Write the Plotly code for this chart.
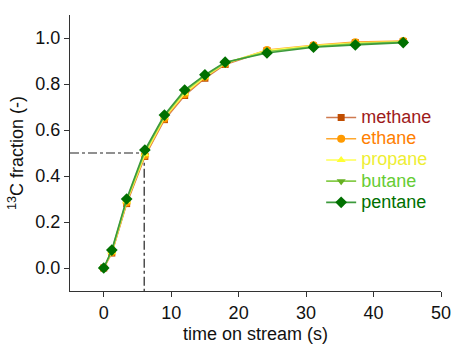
import plotly.graph_objects as go

# Sampling times (s)
time_s = [0, 1.2, 3.4, 6.1, 9.0, 12.0, 15.0, 18.0, 24.2, 31.1, 37.3, 44.4]

# 13C fraction for each alkane
methane = [0.0, 0.065, 0.28, 0.485, 0.645, 0.750, 0.825, 0.885, 0.945, 0.965, 0.980, 0.985]
ethane = [0.0, 0.068, 0.285, 0.490, 0.650, 0.755, 0.830, 0.888, 0.948, 0.968, 0.982, 0.987]
propane = [0.0, 0.070, 0.290, 0.495, 0.655, 0.760, 0.832, 0.890, 0.945, 0.966, 0.978, 0.984]
butane = [0.0, 0.074, 0.295, 0.505, 0.660, 0.768, 0.836, 0.892, 0.940, 0.963, 0.975, 0.982]
pentane = [0.0, 0.078, 0.300, 0.513, 0.665, 0.774, 0.840, 0.895, 0.935, 0.960, 0.970, 0.980]

# Half-conversion guide
half_time = 6.0
half_frac = 0.5

x_ticks = [0, 10, 20, 30, 40, 50]
y_ticks = [0.0, 0.2, 0.4, 0.6, 0.8, 1.0]

series = [
    ("methane", methane, "#cf7a4f", "#c04d00", "square", 7, "#9e1a1a"),
    ("ethane", ethane, "#ffa82e", "#ff9a00", "circle", 8, "#ff8000"),
    ("propane", propane, "#ffff55", "#ffff33", "triangle-up", 8, "#eeee33"),
    ("butane", butane, "#86cc4a", "#66b022", "triangle-down", 8, "#66cc33"),
    ("pentane", pentane, "#3c9a3c", "#007000", "diamond", 9, "#007000"),
]

FONT = "Liberation Sans, Arial, sans-serif"

fig = go.Figure()

# dash-dot guide lines at the half point
fig.add_trace(go.Scatter(
    x=[-5, half_time, half_time], y=[half_frac, half_frac, -0.1],
    mode="lines", line=dict(color="#222222", width=1.2, dash="dashdot"),
    showlegend=False, hoverinfo="skip",
))

for name, vals, lc, mc, sym, ms, tc in series:
    fig.add_trace(go.Scatter(
        x=time_s, y=vals, mode="lines+markers",
        name=f"<span style='color:{tc};font-size:18px'>{name}</span>",
        line=dict(color=lc, width=1.6),
        marker=dict(symbol=sym, size=ms, color=mc, line=dict(width=0)),
    ))

axis_common = dict(
    showgrid=False, zeroline=False, showline=True, linecolor="#333333", linewidth=1.2,
    ticks="outside", ticklen=5, tickcolor="#333333", tickwidth=1, automargin=False,
    tickfont=dict(family=FONT, size=18, color="#111111"),
    title_font=dict(family=FONT, size=18, color="#111111"),
)

fig.update_xaxes(range=[-5, 50], tickvals=x_ticks, title_text="time on stream (s)",
                 title_standoff=10, **axis_common)
fig.update_yaxes(range=[-0.1, 1.1], tickvals=y_ticks, tickformat=".1f",
                 title_text="<sup>13</sup>C fraction (-)", title_standoff=6, **axis_common)

fig.update_layout(
    width=453, height=344,
    margin=dict(l=70, r=12, t=15, b=53),
    plot_bgcolor="white", paper_bgcolor="white",
    legend=dict(
        x=0.677, y=0.685, xanchor="left", yanchor="top",
        bgcolor="rgba(0,0,0,0)", tracegroupgap=0, itemwidth=30,
        font=dict(family=FONT, size=14),
    ),
)

fig.write_html("out.html")
